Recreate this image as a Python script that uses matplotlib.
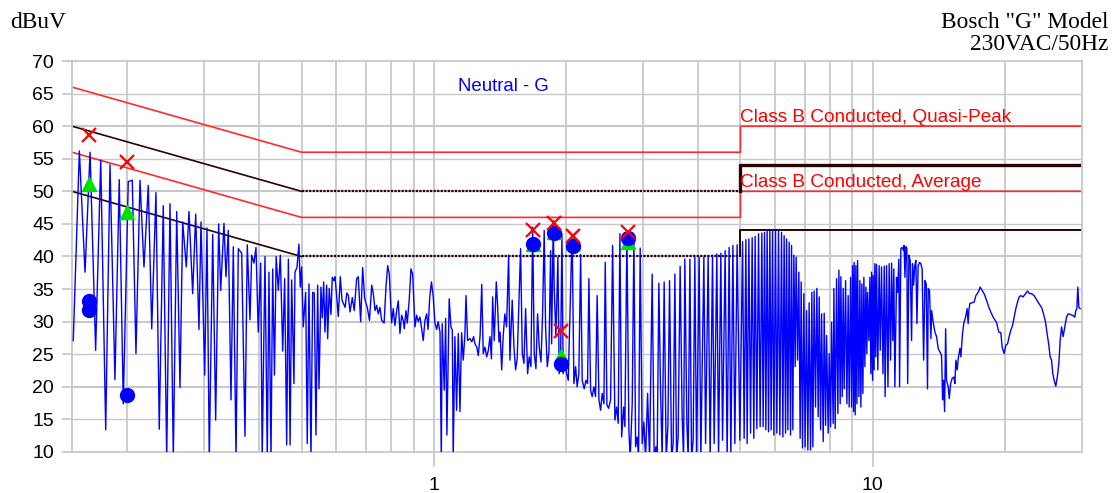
"""Conducted emissions scan, neutral line, with CISPR class B limits."""

import matplotlib
matplotlib.use("Agg")
import matplotlib.pyplot as plt
from matplotlib.ticker import NullFormatter

plt.rcParams["font.family"] = ["Liberation Sans", "DejaVu Sans"]

lf_freq = [.1510, .1559, .1606, .1649, .1698, .1744, .1790, .1831, .1879, .1922,
           .1963, .2015, .2058, .2098, .2143, .2188, .2238, .2279, .2330, .2371,
           .2421, .2465, .2508, .2552, .2598, .2643, .2681, .2732, .2771, .2825,
           .2870, .2920, .2951, .3009, .3045, .3082, .3138, .3187, .3238, .3272,
           .3329, .3364, .3405, .3454, .3496, .3546, .3589]
lf_level = [27.1, 56.2, 37.6, 56.0, 25.6, 54.8, 13.4, 54.1, 21.1, 51.8,
            17.4, 51.5, 51.7, 25.1, 51.7, 38.4, 50.9, 28.9, 49.8, 13.5,
            47.8, 9, 48.1, 9, 46.9, 19.9, 45.3, 38.4, 46.9, 34.3,
            46.5, 28.8, 45.3, 21.8, 44.4, 9, 43.4, 14.9, 45.0, 34.8,
            45.1, 36.9, 44.0, 18.0, 41.5, 9, 41.2]

mid_freq = [.3653, .3717, .3762, .3816, .3850, .3896, .3938, .3985, .4036, .4068,
            .4128, .4178, .4215, .4260, .4298, .4339, .4377, .4427, .4474, .4530,
            .4577, .4626, .4667, .4709, .4748, .4806, .4831, .4882, .4933, .4967,
            .5004, .5046, .5110, .5153, .5199, .5254, .5301, .5346, .5394, .5442,
            .5480, .5537, .5575, .5616, .5654, .5705, .5735, .5783, .5835, .5875,
            .5928, .5959, .6012, .6063, .6129, .6183, .6284, .6341, .6394, .6448,
            .6527, .6594, .6677, .6734, .6819, .6891, .6961, .7012, .7060, .7142,
            .7227, .7288, .7354, .7416, .7478, .7546, .7613, .7712, .7787, .7857,
            .7923, .8023, .8091, .8163, .8237, .8306, .8380, .8455, .8527]
mid_level = [40.5, 12.4, 41.8, 30.3, 40.2, 39.0, 41.4, 28.4, 39.0, 9,
             40.0, 9, 37.6, 9, 38.1, 21.8, 40.0, 34.8, 40.2, 25.5,
             36.6, 11.1, 39.6, 11.1, 36.4, 20.5, 37.6, 38.3, 41.9, 35.3,
             38.4, 29.2, 34.5, 11.3, 35.8, 9, 34.5, 34.4, 12.6, 35.6,
             19.7, 35.3, 30.6, 36.1, 28.4, 35.6, 27.4, 35.1, 31.1, 36.8,
             36.3, 36.9, 34.0, 30.8, 36.9, 33.3, 32.2, 34.4, 34.0, 31.5,
             33.7, 31.7, 36.6, 36.9, 30.0, 38.3, 33.7, 32.8, 32.2, 30.2,
             35.6, 34.3, 31.7, 32.5, 31.2, 32.2, 30.2, 29.8, 35.3, 38.6,
             37.3, 29.8, 32.0, 29.4, 31.7, 33.2, 28.2, 31.0, 30.2]

one_freq = [.8572, .8648, .8708, .8799, .8878, .8957, .9066, .9147, .9225, .9307,
            .9391, .9469, .9554, .9640, .9711, .9798, .9886, .9979, 1.007, 1.016,
            1.024, 1.034, 1.041, 1.046, 1.057, 1.065, 1.072, 1.085, 1.095, 1.103,
            1.108, 1.118, 1.128, 1.138, 1.148, 1.158, 1.168, 1.178, 1.185, 1.195,
            1.210, 1.222, 1.233, 1.242, 1.254, 1.264, 1.276, 1.287, 1.297, 1.309,
            1.321, 1.332, 1.344, 1.354, 1.363, 1.374, 1.389, 1.398, 1.409, 1.417,
            1.429, 1.440, 1.453, 1.466, 1.482, 1.492, 1.510, 1.524, 1.537, 1.550,
            1.564, 1.578, 1.592, 1.606, 1.620, 1.637, 1.651, 1.666, 1.681, 1.695,
            1.710, 1.725, 1.740, 1.756, 1.771, 1.786, 1.799, 1.815, 1.831, 1.847,
            1.857, 1.873, 1.882, 1.899, 1.919, 1.932, 1.947, 1.960, 1.973, 1.991,
            2.009, 2.026]
one_level = [28.9, 31.7, 29.8, 33.4, 38.1, 37.3, 29.2, 31.0, 30.0, 30.7,
             28.9, 27.1, 30.2, 31.2, 28.8, 33.8, 36.1, 33.8, 29.8, 28.8,
             30.0, 28.4, 9, 29.7, 19.5, 30.5, 12.6, 33.5, 29.2, 28.7,
             9, 27.7, 16.4, 28.2, 16.2, 28.3, 24.1, 27.9, 34.0, 27.1,
             27.4, 26.9, 27.7, 26.6, 26.1, 24.8, 27.9, 35.7, 25.1, 26.1,
             24.6, 25.6, 27.7, 24.3, 33.8, 27.1, 36.1, 32.8, 26.9, 28.4,
             22.6, 27.7, 31.2, 29.2, 40.2, 24.1, 33.3, 26.1, 22.6, 24.3,
             33.0, 41.2, 25.1, 23.6, 32.0, 22.0, 24.6, 23.1, 44.5, 25.1,
             22.8, 31.2, 26.1, 23.8, 31.2, 44.0, 29.2, 23.1, 25.4, 40.9,
             26.6, 45.5, 35.3, 27.7, 39.9, 22.0, 25.1, 43.5, 22.0, 24.1,
             22.0, 21.0]

hf_freq = [2.062, 2.069, 2.087, 2.106, 2.123, 2.142, 2.162, 2.180, 2.203, 2.223,
           2.242, 2.258, 2.278, 2.297, 2.318, 2.338, 2.358, 2.380, 2.401, 2.421,
           2.443, 2.460, 2.482, 2.504, 2.530, 2.557, 2.588, 2.611, 2.633, 2.657,
           2.681, 2.709, 2.727, 2.756, 2.785, 2.804, 2.834, 2.859, 2.885, 2.909,
           2.930, 2.955, 2.986, 3.013, 3.040, 3.072, 3.104, 3.147, 3.180, 3.209,
           3.230, 3.259, 3.288, 3.316, 3.351, 3.387, 3.417, 3.447, 3.484, 3.513,
           3.545, 3.576, 3.606, 3.644, 3.683, 3.710, 3.735, 3.775, 3.801, 3.835,
           3.869, 3.902, 3.936, 3.972, 4.026, 4.062, 4.127, 4.164, 4.221, 4.265,
           4.319, 4.356, 4.418, 4.457, 4.511, 4.552, 4.614, 4.663, 4.712, 4.755,
           4.805]
hf_level = [40.9, 42.4, 20.5, 23.1, 20.0, 22.0, 40.3, 21.0, 19.7, 21.0,
            20.5, 36.6, 19.5, 18.5, 20.0, 18.5, 34.0, 18.0, 16.4, 19.0,
            17.4, 39.1, 17.2, 16.7, 18.0, 41.7, 14.9, 16.9, 14.4, 43.5,
            12.3, 16.9, 13.9, 43.3, 13.4, 9, 17.4, 42.7, 10.8, 12.3,
            9, 41.3, 11.3, 14.6, 9, 19.0, 9, 37.3, 9, 10.8,
            9, 35.9, 19.5, 9, 36.1, 9, 13.9, 36.3, 9, 11.3,
            37.3, 9, 12.3, 38.5, 15.4, 9, 39.6, 14.4, 9, 39.6,
            9, 11.8, 39.9, 9, 39.9, 9, 39.9, 11.3, 40.0, 9,
            40.2, 11.3, 40.4, 9, 40.5, 11.8, 40.9, 9, 41.4, 9,
            41.7]

band_freq = [4.855, 4.914, 4.985, 5.056, 5.098, 5.144, 5.179, 5.226, 5.272, 5.317,
             5.364, 5.401, 5.449, 5.498, 5.544, 5.594, 5.632, 5.674, 5.713, 5.752,
             5.794, 5.834, 5.874, 5.917, 5.958, 6.011, 6.052, 6.106, 6.148, 6.203,
             6.246, 6.288, 6.335, 6.368, 6.412, 6.456, 6.503, 6.537, 6.582, 6.617,
             6.662, 6.697, 6.746, 6.792, 6.839, 6.875, 6.925, 6.973, 7.020, 7.072,
             7.121, 7.169, 7.222, 7.272, 7.310, 7.360, 7.414, 7.465, 7.518, 7.557,
             7.613, 7.653, 7.718, 7.758, 7.815, 7.856, 7.923, 7.964, 8.023, 8.065,
             8.133, 8.163, 8.219, 8.279, 8.336, 8.380, 8.437, 8.468, 8.526, 8.571,
             8.616, 8.679, 8.739, 8.798, 8.845, 8.910, 8.957, 9.004, 9.051, 9.080,
             9.128, 9.161, 9.210, 9.243, 9.307, 9.356, 9.405, 9.454, 9.504, 9.554,
             9.604, 9.655, 9.705, 9.741, 9.808, 9.860, 9.911, 9.948, 10.00, 10.03,
             10.08, 10.12, 10.17, 10.21, 10.28, 10.35, 10.41, 10.48, 10.56, 10.63,
             10.68, 10.76, 10.84, 10.91, 10.99, 11.05, 11.12, 11.18]
band_level = [11.3, 41.8, 11.8, 42.3, 12.1, 42.6, 11.3, 42.7, 12.9, 42.9,
              12.1, 43.1, 13.6, 43.5, 13.9, 43.6, 13.9, 43.7, 13.4, 43.9,
              13.1, 44.0, 13.4, 44.0, 12.6, 44.0, 12.9, 43.9, 12.6, 43.7,
              12.3, 43.2, 12.9, 42.7, 13.4, 42.2, 12.6, 41.7, 13.4, 40.2,
              23.1, 39.9, 24.1, 37.6, 12.1, 36.1, 10.6, 34.3, 10.8, 31.7,
              10.3, 32.9, 10.3, 34.5, 10.8, 34.7, 16.9, 35.1, 15.4, 33.8,
              13.4, 31.2, 11.6, 31.3, 14.1, 27.9, 12.9, 25.1, 13.9, 29.9,
              14.4, 35.1, 13.6, 36.6, 15.9, 37.9, 17.4, 36.9, 18.5, 35.1,
              19.7, 36.3, 17.4, 34.0, 16.9, 36.8, 16.9, 38.6, 16.2, 39.1,
              15.7, 38.6, 17.4, 39.4, 18.5, 36.3, 16.9, 35.8, 19.0, 36.8,
              23.1, 35.3, 25.1, 34.5, 27.1, 36.8, 22.0, 37.6, 21.0, 37.1,
              22.6, 38.9, 24.6, 38.8, 22.6, 38.6, 25.6, 38.4, 22.0, 38.5,
              18.5, 38.6, 20.0, 38.9, 24.1, 39.0, 27.1, 38.1]

top_freq = [11.24, 11.34, 11.40, 11.48, 11.52, 11.60, 11.68, 11.77, 11.80, 11.85,
            11.91, 11.97, 12.02, 12.10, 12.18, 12.27, 12.33, 12.40, 12.48, 12.55,
            12.62, 12.70, 12.80, 12.88, 12.97, 13.07, 13.16, 13.25, 13.34, 13.39,
            13.48, 13.58, 13.63, 13.74, 13.87, 13.99, 14.11, 14.23, 14.36, 14.44,
            14.51, 14.59, 14.67, 14.74, 14.87, 14.95, 15.06, 15.18, 15.32, 15.40,
            15.48, 15.59, 15.67, 15.81, 15.89, 16.03, 16.14, 16.29, 16.42, 16.51,
            16.57, 16.66, 16.86, 17.04, 17.19, 17.40, 17.58, 17.77, 17.95, 18.18,
            18.40, 18.67, 18.89, 19.16, 19.39, 19.60, 19.73, 19.94, 20.12, 20.30,
            20.47, 20.65, 20.84, 21.02, 21.20, 21.39, 21.57, 21.77, 22.03, 22.31,
            22.54, 22.78, 23.02, 23.34, 23.63, 23.92, 24.26, 24.52, 24.78, 25.04,
            25.21, 25.38, 25.57, 25.74, 25.92, 26.15, 26.39, 26.57, 26.75, 26.95,
            27.17, 27.42, 27.66, 27.90, 28.29, 28.64, 28.89, 29.04, 29.20, 29.35,
            29.51, 29.71]
top_level = [20.0, 36.8, 34.5, 39.6, 20.0, 41.2, 41.4, 40.9, 41.7, 36.8,
             41.5, 41.2, 20.5, 40.2, 39.4, 27.1, 38.9, 35.6, 38.6, 39.4,
             29.7, 38.6, 39.1, 38.9, 38.1, 24.1, 36.3, 35.8, 19.7, 35.1,
             34.8, 27.4, 31.7, 29.9, 28.4, 27.7, 25.9, 25.4, 24.8, 18.0,
             21.0, 16.2, 28.9, 21.0, 20.0, 18.2, 20.5, 21.3, 21.5, 20.5,
             24.1, 22.6, 24.3, 25.9, 24.6, 28.2, 29.8, 30.7, 32.0, 29.7,
             31.7, 32.8, 32.9, 33.0, 34.0, 34.5, 35.3, 34.8, 34.3, 33.3,
             32.2, 31.2, 30.5, 29.9, 28.4, 28.3, 26.1, 25.1, 26.4, 26.6,
             27.7, 28.7, 29.4, 30.7, 32.0, 33.0, 33.8, 34.0, 33.8, 34.3,
             34.7, 34.3, 34.3, 34.0, 33.4, 32.8, 32.2, 31.2, 29.9, 27.7,
             26.4, 24.6, 24.1, 22.0, 21.0, 20.1, 21.8, 23.6, 27.1, 29.2,
             27.7, 29.2, 30.7, 31.2, 31.1, 30.9, 30.7, 31.7, 32.0, 35.3,
             32.2, 32.0]

# --- limit lines (MHz, dBuV) ---
limit_freq = [0.15, 0.5, 5.0, 5.0, 30.0]
qp_limit = [66, 56, 56, 60, 60]
avg_limit = [56, 46, 46, 50, 50]
qp_margin = [60, 50, 50, 54, 54]
avg_margin = [50, 40, 40, 44, 44]

# --- final measurements ---
qp_freq = [0.164, 0.200, 1.681, 1.877, 1.950, 2.081, 2.766]
qp_level = [58.6, 54.5, 44.1, 45.1, 28.6, 43.2, 43.8]
av_freq = [0.164, 0.200, 1.681, 1.877, 1.950, 2.081, 2.766]
av_level = [51.2, 46.9, 41.9, 43.8, 24.7, 42.0, 42.3]
pk_freq = [0.164, 0.164, 0.200, 1.681, 1.877, 1.950, 2.081, 2.766]
pk_level = [33.1, 31.8, 18.8, 41.9, 43.6, 23.5, 41.6, 42.8]
mg_freq = [1.950, 2.081]
mg_level = [28.6, 43.3]

grid_minor = [0.2, 0.3, 0.4, 0.5, 0.6, 0.7, 0.8, 0.9,
              2, 3, 4, 5, 6, 7, 8, 9, 20]

trace_freq = lf_freq + mid_freq + one_freq + hf_freq + band_freq + top_freq
trace_level = lf_level + mid_level + one_level + hf_level + band_level + top_level
assert len(trace_freq) == len(trace_level)

fig = plt.figure(figsize=(11.12, 4.93), dpi=100)
ax = fig.add_axes([72 / 1112, 41 / 493, 1010 / 1112, 391 / 493])

ax.set_xscale("log")
ax.set_xlim(0.15, 30)
ax.set_ylim(10, 70)

gc = "#c8c8c8"
ax.set_xticks([1, 10])
ax.set_xticklabels(["1", "10"])
ax.set_xticks(grid_minor, minor=True)
ax.xaxis.set_minor_formatter(NullFormatter())
ax.set_yticks(range(10, 71, 5))
ax.tick_params(axis="x", which="major", length=11, width=1.3, color=gc,
               labelsize=14, pad=7)
ax.tick_params(axis="x", which="minor", length=0)
ax.tick_params(axis="y", length=7, width=1.3, color=gc, labelsize=14, pad=6)
ax.grid(True, axis="x", which="both", color=gc, lw=1.3)
for y in range(15, 70, 5):
    ax.axhline(y, color=gc, lw=1.5 if y % 10 == 0 else 1.0, zorder=0.5)
for s in ax.spines.values():
    s.set_color(gc)
    s.set_linewidth(1.3)

red = "#ff2a2a"
dark = "#2a0000"
ax.plot(limit_freq, qp_limit, color=red, lw=1.2, zorder=2)
ax.plot(limit_freq, avg_limit, color=red, lw=1.2, zorder=2)
# margin lines: sloped part solid, flat part dotted, upper band heavier
for lvl, w in ((qp_margin, 2.4), (avg_margin, 1.4)):
    ax.plot(limit_freq[:2], lvl[:2], color=dark, lw=1.2, zorder=2)
    ax.plot(limit_freq[1:3], lvl[1:3], color=dark, lw=1.6,
            ls=(0, (1, 0.6)), zorder=2)
    ax.plot(limit_freq[2:], lvl[2:], color=dark, lw=w, zorder=2)

ax.plot(trace_freq, trace_level, color="#0000ff", lw=1.0, zorder=3)

ax.plot(av_freq, av_level, ls="none", marker="^", ms=10, color="#00e000", zorder=4)
ax.plot(pk_freq, pk_level, ls="none", marker="o", ms=10, color="#0000ff", zorder=5)
ax.plot(mg_freq, mg_level, ls="none", marker="x", ms=8, mew=1.2,
        color="#ff66ff", zorder=6)
ax.plot(qp_freq, qp_level, ls="none", marker="x", ms=10, mew=1.6,
        color="#ff0000", zorder=7)

ax.text(1.136, 65.4, "Neutral - G", color="#0000ff", fontsize=13.4, va="baseline")
ax.text(4.99, 60.7, "Class B Conducted, Quasi-Peak", color="#ff0000",
        fontsize=13.7, va="baseline")
ax.text(4.99, 50.7, "Class B Conducted, Average", color="#ff0000",
        fontsize=13.7, va="baseline")

serif = ["Liberation Serif", "DejaVu Serif"]
fig.text(0.009, 0.955, "dBuV", family=serif, fontsize=16.8, va="center")
fig.text(0.9965, 0.955, 'Bosch "G" Model', family=serif, fontsize=16.8,
         va="center", ha="right")
fig.text(0.9965, 0.909, "230VAC/50Hz", family=serif, fontsize=16.8,
         va="center", ha="right")

fig.savefig("out.png", dpi=100)
